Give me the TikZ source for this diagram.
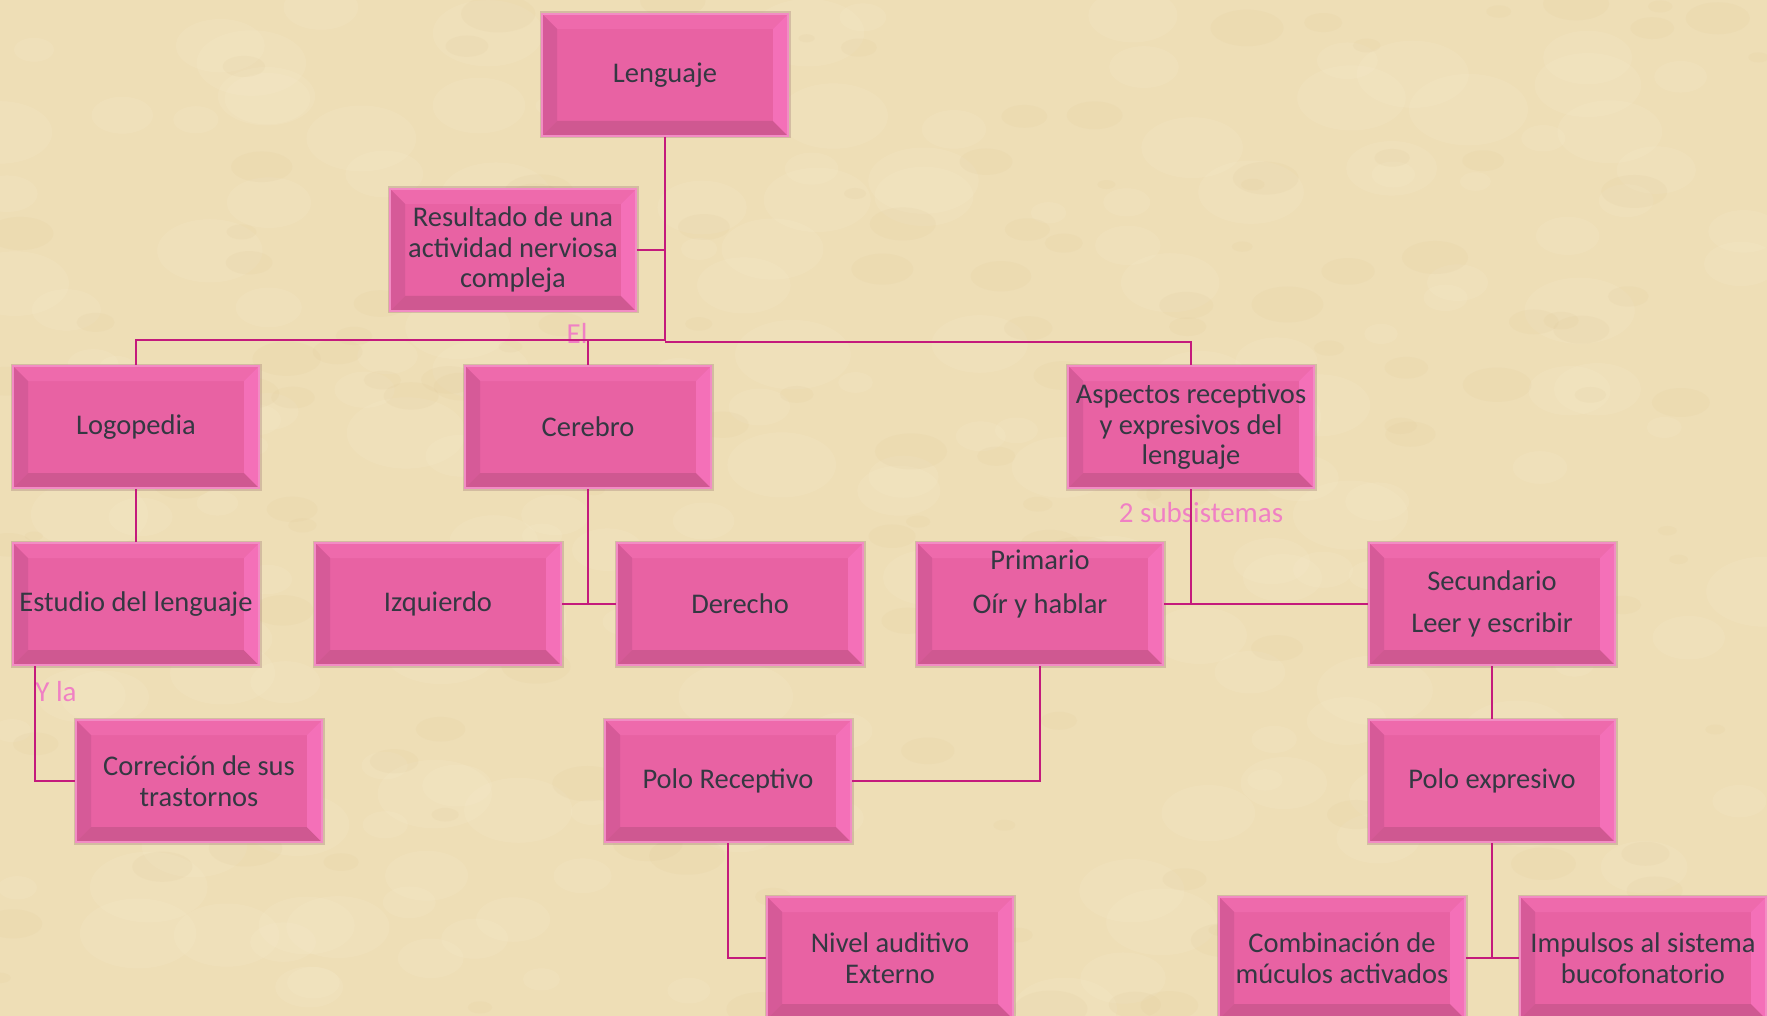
\documentclass[tikz,border=0pt]{standalone}
\usepackage{fontspec}
\setmainfont{Carlito}
\usepackage{tikz}

\definecolor{paper}{RGB}{238,222,182}
\definecolor{paperlight}{RGB}{246,234,204}
\definecolor{paperdark}{RGB}{222,198,148}
\definecolor{boxface}{RGB}{232,98,163}
\definecolor{boxrim}{RGB}{242,140,196}
\definecolor{boxshadow}{RGB}{150,110,110}
\definecolor{bevtop}{RGB}{238,106,172}
\definecolor{bevleft}{RGB}{214,90,152}
\definecolor{bevbottom}{RGB}{207,88,145}
\definecolor{bevright}{RGB}{244,112,184}
\definecolor{linkcol}{RGB}{196,26,124}
\definecolor{labelpink}{RGB}{240,128,196}
\definecolor{textgray}{RGB}{52,56,66}

\tikzset{
  conbox/.style={draw=boxrim, line width=2pt, fill=boxface, text=textgray,
    minimum width=246pt, minimum height=122pt, inner sep=0pt, align=center,
    font=\fontsize{28.5}{30.5}\selectfont,
    preaction={draw=boxshadow, line width=5pt, draw opacity=0.3},
    path picture={
      \coordinate (bnw) at (path picture bounding box.north west);
      \coordinate (bne) at (path picture bounding box.north east);
      \coordinate (bsw) at (path picture bounding box.south west);
      \coordinate (bse) at (path picture bounding box.south east);
      \fill[bevtop] (bnw) -- (bne) -- ([shift={(-15pt,-15pt)}]bne) -- ([shift={(15pt,-15pt)}]bnw) -- cycle;
      \fill[bevleft] (bnw) -- (bsw) -- ([shift={(15pt,15pt)}]bsw) -- ([shift={(15pt,-15pt)}]bnw) -- cycle;
      \fill[bevbottom] (bsw) -- (bse) -- ([shift={(-15pt,15pt)}]bse) -- ([shift={(15pt,15pt)}]bsw) -- cycle;
      \fill[bevright] (bne) -- (bse) -- ([shift={(-15pt,15pt)}]bse) -- ([shift={(-15pt,-15pt)}]bne) -- cycle;
    }},
  link/.style={draw=linkcol, line width=2.6pt},
  thinlink/.style={draw=linkcol, line width=1.6pt},
  tag/.style={text=labelpink, font=\fontsize{29}{32}\selectfont, inner sep=0pt}
}

\begin{document}
\begin{tikzpicture}[x=1pt, y=-1pt]
        \fill[paper] (0,0) rectangle (1767,1016);
        \useasboundingbox (0,0) rectangle (1767,1016);

        % parchment blotches
        \pgfmathsetseed{7}
        \foreach \i in {1,...,200}{
          \pgfmathsetmacro{\bx}{rnd*1767}
          \pgfmathsetmacro{\by}{rnd*1016}
          \pgfmathsetmacro{\br}{15+rnd*45}
          \fill[paperlight, opacity=0.22] (\bx,\by) ellipse ({\br pt} and {0.6*\br pt});
        }
        \foreach \i in {1,...,160}{
          \pgfmathsetmacro{\bx}{rnd*1767}
          \pgfmathsetmacro{\by}{rnd*1016}
          \pgfmathsetmacro{\br}{8+rnd*30}
          \fill[paperdark, opacity=0.12] (\bx,\by) ellipse ({\br pt} and {0.5*\br pt});
        }

        % labels sit under the lines
        \node[tag] (tagel) at (577,333) {El};
        \node[tag] (tagyla) at (56,692) {Y la};
        \node[tag] (tagsub) at (1201,513) {2 subsistemas};

        \node[conbox] (lenguaje) at (665,75) {Lenguaje};
        \node[conbox] (resultado) at (513,250) {Resultado de una\\actividad nerviosa\\compleja};

        \node[conbox] (logopedia) at (136,427) {Logopedia};
        \node[conbox] (cerebro) at (588,427) {Cerebro};
        \node[conbox] (aspectos) at (1191,427) {Aspectos receptivos\\y expresivos del\\lenguaje};

        \node[conbox] (estudio) at (136,604) {Estudio del lenguaje};
        \node[conbox] (izquierdo) at (438,604) {Izquierdo};
        \node[conbox] (derecho) at (740,604) {Derecho};
        \node[conbox, font=\fontsize{28.5}{44}\selectfont] (primario) at (1040,604) {Primario\\Oír y hablar\\\rule{0pt}{0pt}};
        \node[conbox, font=\fontsize{28.5}{42}\selectfont] (secundario) at (1492,604) {Secundario\\Leer y escribir};

        \node[conbox] (correcion) at (199,781) {Correción de sus\\trastornos};
        \node[conbox] (receptivo) at (728,781) {Polo Receptivo};
        \node[conbox] (expresivo) at (1492,781) {Polo expresivo};

        \node[conbox] (nivel) at (890,958) {Nivel auditivo\\Externo};
        \node[conbox] (combinacion) at (1342,958) {Combinación de\\múculos activados};
        \node[conbox] (impulsos) at (1643,958) {Impulsos al sistema\\bucofonatorio};

        \draw[link] (lenguaje.south) -- ++(0,203) coordinate (hub) -| (logopedia.north);
        \draw[link] (hub) -| (cerebro.north);
        \draw[link] ([yshift=-2pt]hub) -| (aspectos.north);
        \draw[link] (resultado.east) -- (resultado.east -| hub);

        \draw[thinlink] (logopedia) -- (estudio);
        \draw[thinlink] ([xshift=23pt]estudio.south west) |- (correcion.west);

        \draw[link] (cerebro.south) |- (izquierdo.east);
        \draw[link] (cerebro.south) |- (derecho.west);

        \draw[link] (aspectos.south) |- (primario.east);
        \draw[thinlink] (aspectos.south) |- (secundario.west);

        \draw[link] (primario.south) |- (receptivo.east);
        \draw[thinlink] (receptivo.south) |- (nivel.west);

        \draw[thinlink] (secundario) -- (expresivo);
        \draw[link] (expresivo.south) |- (combinacion.east);
        \draw[link] (expresivo.south) |- (impulsos.west);

        \end{tikzpicture}
\end{document}
